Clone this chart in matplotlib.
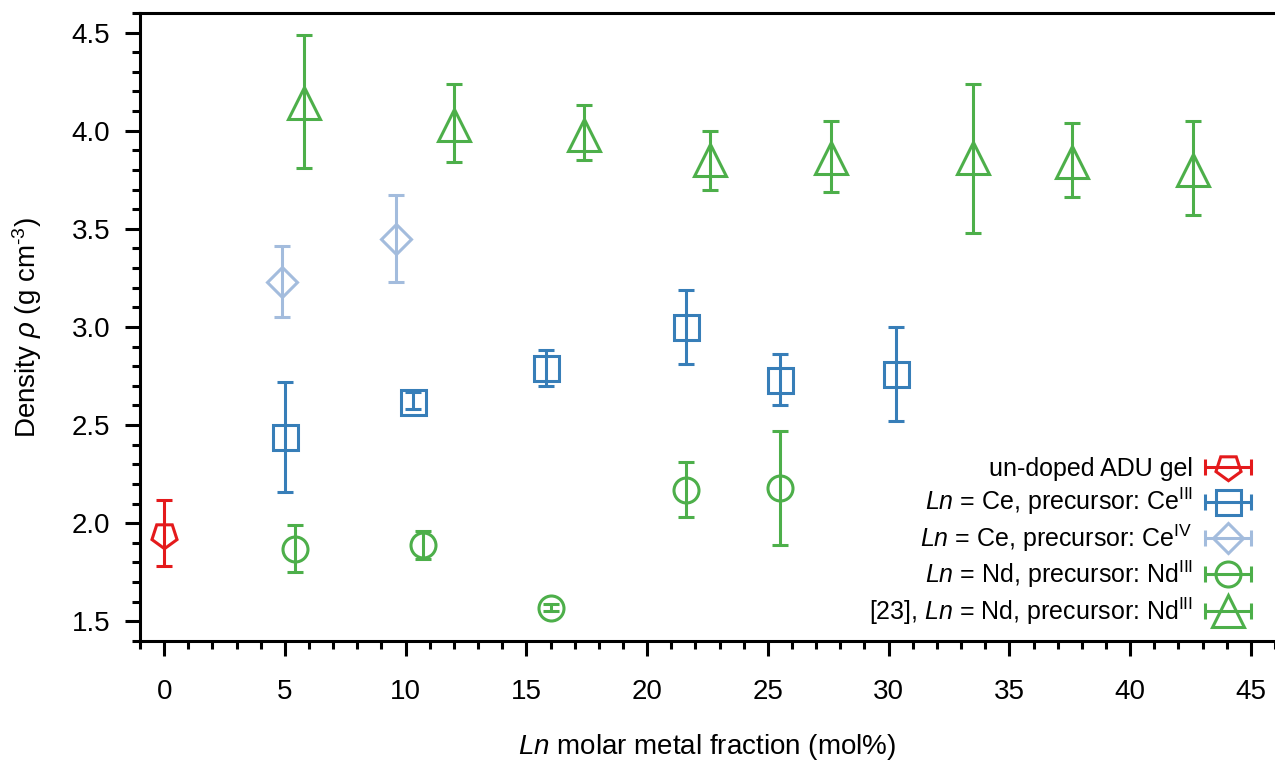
import numpy as np
import matplotlib
matplotlib.use('Agg')
import matplotlib.pyplot as plt
from matplotlib.container import ErrorbarContainer
from matplotlib.legend_handler import HandlerErrorbar
from matplotlib.ticker import MultipleLocator

plt.rcParams['font.family'] = ['Liberation Sans', 'DejaVu Sans']
plt.rcParams['mathtext.fontset'] = 'custom'
plt.rcParams['mathtext.rm'] = 'Liberation Sans'
plt.rcParams['mathtext.it'] = 'Liberation Sans:italic'
plt.rcParams['font.size'] = 20

# un-doped ADU gel
adu_x = [0.0]
adu_y = [1.94]
adu_lo = [1.78]
adu_hi = [2.12]

# Ln = Ce, precursor Ce(III)
ce3_x = [5.0, 10.3, 15.8, 21.6, 25.5, 30.3]
ce3_y = [2.44, 2.62, 2.79, 3.00, 2.73, 2.76]
ce3_lo = [2.16, 2.58, 2.70, 2.81, 2.60, 2.52]
ce3_hi = [2.72, 2.67, 2.88, 3.19, 2.86, 3.00]

# Ln = Ce, precursor Ce(IV)
ce4_x = [4.9, 9.6]
ce4_y = [3.23, 3.45]
ce4_lo = [3.05, 3.23]
ce4_hi = [3.41, 3.67]

# Ln = Nd, precursor Nd(III)
nd_x = [5.4, 10.7, 16.0, 21.6, 25.5]
nd_y = [1.87, 1.89, 1.57, 2.17, 2.18]
nd_lo = [1.75, 1.82, 1.55, 2.03, 1.89]
nd_hi = [1.99, 1.96, 1.59, 2.31, 2.47]

# [23], Ln = Nd, precursor Nd(III)
ref_x = [5.8, 12.0, 17.4, 22.6, 27.6, 33.5, 37.6, 42.6]
ref_y = [4.14, 4.03, 3.98, 3.85, 3.86, 3.86, 3.84, 3.80]
ref_lo = [3.81, 3.84, 3.85, 3.70, 3.69, 3.48, 3.66, 3.57]
ref_hi = [4.49, 4.24, 4.13, 4.00, 4.05, 4.24, 4.04, 4.05]

series = [
    (adu_x, adu_y, adu_lo, adu_hi, '#e41a1c', (5, 0, 180), 19, 'un-doped ADU gel'),
    (ce3_x, ce3_y, ce3_lo, ce3_hi, '#377eb8', 's', 18, r'$\mathit{Ln}$ = Ce, precursor: Ce$^{\mathrm{III}}$'),
    (ce4_x, ce4_y, ce4_lo, ce4_hi, '#a3bcdd', 'D', 15, r'$\mathit{Ln}$ = Ce, precursor: Ce$^{\mathrm{IV}}$'),
    (nd_x, nd_y, nd_lo, nd_hi, '#4daf4a', 'o', 18, r'$\mathit{Ln}$ = Nd, precursor: Nd$^{\mathrm{III}}$'),
    (ref_x, ref_y, ref_lo, ref_hi, '#4daf4a', '^', 23, r'[23], $\mathit{Ln}$ = Nd, precursor: Nd$^{\mathrm{III}}$'),
]

fig = plt.figure(figsize=(12.75, 7.63), dpi=100)
ax = fig.add_axes([0.1098, 0.16, 0.8902, 0.823])

handles = []
labels = []
for x, y, lo, hi, col, mk, ms, lab in series:
    y = np.array(y)
    yerr = [y - np.array(lo), np.array(hi) - y]
    style = dict(fmt='', marker=mk, linestyle='none', ms=ms, mfc='none', mec=col, mew=2.2,
                 ecolor=col, elinewidth=2.2, capsize=5.5, capthick=2.2)
    ax.errorbar(x, y, yerr=yerr, **style)
    # proxy for legend with horizontal bar
    h = ax.errorbar([np.nan], [np.nan], xerr=[1], **style)
    handles.append(h)
    labels.append(lab)

ax.set_xlim(-1, 46)
ax.set_ylim(1.4, 4.6)
ax.xaxis.set_major_locator(MultipleLocator(5))
ax.xaxis.set_minor_locator(MultipleLocator(1))
ax.yaxis.set_major_locator(MultipleLocator(0.5))
ax.yaxis.set_minor_locator(MultipleLocator(0.1))
ax.tick_params(which='major', direction='out', length=10.5, width=2.2, labelsize=20)
ax.tick_params(axis='x', which='major', pad=17)
ax.tick_params(axis='y', which='major', pad=11)
ax.tick_params(which='minor', direction='out', length=5.5, width=2.2)
ax.spines['right'].set_visible(False)
for s in ['left', 'top', 'bottom']:
    ax.spines[s].set_linewidth(2.2)

ax.set_xlabel(r'$\mathit{Ln}$ molar metal fraction (mol%)', fontsize=20, labelpad=19)
ax.set_ylabel(r'Density $\mathit{\rho}$ (g cm$^{\text{-3}}$)', fontsize=20, labelpad=20)

ax.legend(handles, labels, loc='lower right', markerfirst=False, frameon=False,
          fontsize=18, handlelength=1.8, handletextpad=0.5, labelspacing=0.2,
          borderaxespad=0, bbox_to_anchor=(0.987, 0.007),
          handler_map={ErrorbarContainer: HandlerErrorbar(xerr_size=0.92)})

fig.savefig('out.png', dpi=100)
